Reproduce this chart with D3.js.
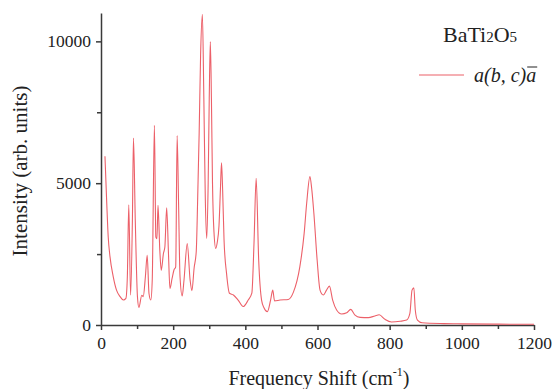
<!DOCTYPE html>
<html><head><meta charset="utf-8">
<script src="https://cdn.jsdelivr.net/npm/d3@7"></script>
<style>body{margin:0;background:#fff}svg{display:block}</style>
</head><body>
<svg id="c" width="553" height="389"></svg>
<script>
const shift = [11,16,20,25,34,43,53,62,69,73,77,82,87,90,95,101,105,113,117,123,128,133,138,142,148,152,155,158,163,167,173,177,182,187,191,197,202,207,211,215,219,225,230,239,247,252,258,264,268,272,276,281,285,289,293,297,300,303,306,309,313,318,322,327,331,334,337,341,348,356,367,380,394,408,418,424,430,437,445,452,461,470,476,481,496,519,533,551,563,570,579,584,590,599,607,616,625,633,642,653,667,681,692,704,718,741,759,771,787,805,829,847,856,862,867,871,877,890,950,1000,1100,1200];
const intensity = [5950,4270,3100,2400,1700,1230,1000,880,940,1700,4240,1050,3690,6590,3690,1000,620,1050,1000,1700,2460,1110,880,1580,7040,3100,3040,4220,2630,1930,2520,2750,4130,2520,1290,1640,1930,2050,6680,4270,1700,1020,1580,2870,1580,1210,2000,2600,4500,6750,9500,10950,8000,4500,3050,5000,8000,9990,8000,5000,3300,2700,2900,3500,4800,5720,4800,3000,1810,1120,1060,880,650,880,1120,2870,5170,2290,880,600,470,880,1230,850,880,900,1150,2050,3230,4290,5230,4800,3930,2290,1230,1060,1230,1370,880,530,390,430,550,350,270,260,320,360,200,105,130,175,410,1230,1310,530,175,80,50,40,30,25];
const xTicks = [0,200,400,600,800,1000,1200];
const yTicks = [0,5000,10000];

const svg = d3.select("#c");
const x = d3.scaleLinear().domain([0,1200]).range([101,534]);
const y = d3.scaleLinear().domain([0,11000]).range([325,13]);
const axisColor = "#3a3a3a";
const font = "'Liberation Serif','Times New Roman',serif";
const lineColor = "#ec6069";

// minor ticks
const gx = svg.append("g").attr("transform","translate(0,325)");
gx.call(d3.axisBottom(x).tickValues(d3.range(100,1200,200)).tickSize(4).tickFormat(""));
gx.call(g=>g.select(".domain").remove());
const gx2 = svg.append("g").attr("transform","translate(0,325)");
gx2.call(d3.axisBottom(x).tickValues(xTicks).tickSize(5).tickSizeOuter(0).tickPadding(4).tickFormat(d3.format("d")));
const gy = svg.append("g").attr("transform","translate(101,0)");
gy.call(d3.axisLeft(y).tickValues([2500,7500]).tickSize(4).tickFormat(""));
gy.call(g=>g.select(".domain").remove());
const gy2 = svg.append("g").attr("transform","translate(101,0)");
gy2.call(d3.axisLeft(y).tickValues(yTicks).tickSize(5).tickSizeOuter(0).tickPadding(5).tickFormat(d3.format("d")));

svg.selectAll(".domain, .tick line").attr("stroke",axisColor).attr("stroke-width",1.5);
svg.selectAll(".tick text").attr("font-family",font).attr("font-size",17.5).attr("fill","#222");
gx2.selectAll(".tick text").attr("dy","0.85em");

// line
const line = d3.line().x((d,i)=>x(shift[i])).y(d=>y(d)).curve(d3.curveMonotoneX);
svg.append("path").datum(intensity).attr("d",line)
  .attr("fill","none").attr("stroke",lineColor).attr("stroke-width",1.1);

// axis titles
svg.append("text").attr("transform","translate(27,171) rotate(-90)")
  .attr("text-anchor","middle").attr("font-family",font).attr("font-size",21).attr("fill","#222")
  .text("Intensity (arb. units)");
const xt = svg.append("text").attr("x",319).attr("y",385).attr("text-anchor","middle")
  .attr("font-family",font).attr("font-size",20).attr("fill","#222");
xt.append("tspan").text("Frequency Shift (cm");
xt.append("tspan").attr("font-size",12).attr("dy",-9).text("-1");
xt.append("tspan").attr("dy",9).text(")");

// title
const tt = svg.append("text").attr("x",443).attr("y",42).attr("font-family",font)
  .attr("font-size",22).attr("fill","#222");
tt.append("tspan").text("BaTi");
tt.append("tspan").attr("font-size",15).text("2");
tt.append("tspan").text("O");
tt.append("tspan").attr("font-size",15).text("5");

// legend
svg.append("line").attr("x1",419).attr("x2",464).attr("y1",75).attr("y2",75)
  .attr("stroke",lineColor).attr("stroke-width",1.1);
const lt = svg.append("text").attr("x",474).attr("y",82).attr("font-family",font)
  .attr("font-size",20).attr("font-style","italic").attr("fill","#222");
lt.append("tspan").text("a(b, c)");
const last = lt.append("tspan").text("a");
const tb = lt.node().getBBox();
const cw = last.node().getComputedTextLength();
svg.append("line").attr("x1",tb.x+tb.width-cw+1).attr("x2",tb.x+tb.width+1)
  .attr("y1",67).attr("y2",67).attr("stroke","#222").attr("stroke-width",1);
</script>
</body></html>
